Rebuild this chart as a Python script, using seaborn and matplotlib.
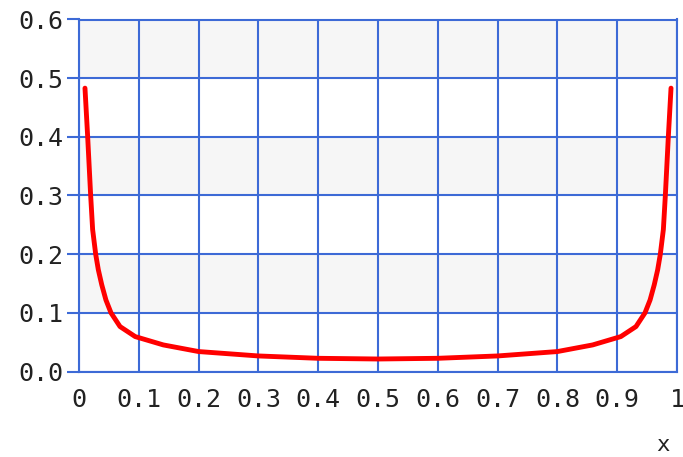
import numpy as np
import pandas as pd
import seaborn as sns
import matplotlib
matplotlib.use("Agg")
import matplotlib.pyplot as plt

# Data
x_vals = [0.01, 0.0145, 0.0195, 0.0228, 0.0279, 0.0323, 0.038, 0.045, 0.0535,
          0.0686, 0.094, 0.141, 0.2, 0.3, 0.4, 0.5, 0.6, 0.7, 0.8, 0.859,
          0.906, 0.9314, 0.9465, 0.955, 0.962, 0.9677, 0.9721, 0.9772, 0.9805,
          0.9855, 0.99]
y_vals = [0.483, 0.4, 0.3, 0.242, 0.2, 0.1735, 0.148, 0.122, 0.1,
          0.0766, 0.0595, 0.0453, 0.034, 0.0265, 0.0225, 0.0213, 0.0225, 0.0265, 0.034, 0.0453,
          0.0595, 0.0766, 0.1, 0.122, 0.148, 0.1735, 0.2, 0.242, 0.3,
          0.4, 0.483]
x_ticks = [0, 0.1, 0.2, 0.3, 0.4, 0.5, 0.6, 0.7, 0.8, 0.9, 1]
x_tick_labels = ["0", "0.1", "0.2", "0.3", "0.4", "0.5", "0.6", "0.7", "0.8", "0.9", "1"]
y_ticks = [0.0, 0.1, 0.2, 0.3, 0.4, 0.5, 0.6]
y_tick_labels = ["0.0", "0.1", "0.2", "0.3", "0.4", "0.5", "0.6"]

sns.set_style("white")
plt.rcParams["font.family"] = ["DejaVu Sans Mono", "DejaVu Sans"]

grid_blue = "#3d6ad6"
band_gray = "#f6f6f6"
text_col = "#222222"

fig = plt.figure(figsize=(6.83, 4.57), dpi=100)
ax = fig.add_axes([79 / 683, 1 - 371.5 / 457, 598 / 683, (371.5 - 19.5) / 457])

for lo in [0.1, 0.3, 0.5]:
    ax.axhspan(lo, lo + 0.1, color=band_gray, zorder=0, lw=0)

df = pd.DataFrame({"x": x_vals, "y": y_vals})
sns.lineplot(data=df, x="x", y="y", ax=ax, color="#ff0000", linewidth=3.5,
             sort=False, zorder=5)
ax.lines[-1].set_solid_joinstyle("round")
ax.lines[-1].set_solid_capstyle("round")

ax.set_xlim(0, 1)
ax.set_ylim(0, 0.6)
ax.set_xticks(x_ticks)
ax.set_xticklabels(x_tick_labels)
ax.set_yticks(y_ticks)
ax.set_yticklabels(y_tick_labels)
ax.grid(True, color=grid_blue, linewidth=1.5, zorder=1)
ax.set_axisbelow(True)
for s in ax.spines.values():
    s.set_visible(True)
    s.set_color(grid_blue)
    s.set_linewidth(1.5)

ax.tick_params(axis="y", which="major", length=8.6, width=1.5, color=grid_blue,
               pad=3, labelsize=18, labelcolor=text_col, left=True)
ax.tick_params(axis="x", which="major", length=0, pad=12, labelsize=18,
               labelcolor=text_col, bottom=True)
ax.set_xlabel("")
ax.set_ylabel("")

fig.text(663 / 683, 1 - 451 / 457, "x", fontsize=16, color=text_col,
         ha="center", va="baseline")

fig.savefig("out.png", dpi=100, facecolor="white")
